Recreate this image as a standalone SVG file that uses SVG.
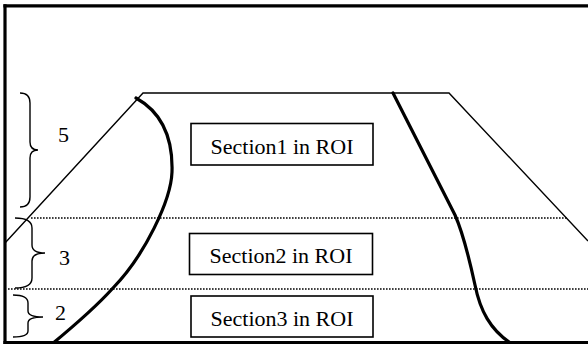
<svg xmlns="http://www.w3.org/2000/svg" width="588" height="344" viewBox="0 0 588 344">
  <style>
    .frame { stroke: #000; stroke-width: 3.2; fill: none; }
    .edge { stroke: #000; stroke-width: 1.4; fill: none; }
    .bound { stroke: #000; stroke-width: 3.2; fill: none; stroke-linecap: round; stroke-linejoin: round; }
    .dot { stroke: #000; stroke-width: 1.4; stroke-dasharray: 1.6 1.4; fill: none; }
    .brace { stroke: #000; stroke-width: 1.4; fill: none; }
    .box { stroke: #000; stroke-width: 1.6; fill: #fff; }
    .lbl { font-family: "Liberation Serif", "Times New Roman", serif; font-size: 22px; fill: #000; }
  </style>
  <rect width="588" height="344" fill="#fff"/>

  <!-- outer frame: top, left, bottom -->
  <g id="frame">
    <line class="frame" x1="3.4" y1="5.8" x2="588" y2="5.8"/>
    <line class="frame" x1="5" y1="4.2" x2="5" y2="344"/>
    <line class="frame" x1="3.4" y1="342.5" x2="588" y2="342.5"/>
  </g>

  <!-- road trapezoid -->
  <g id="road">
    <polyline class="edge" points="5,243 143,93 449,93 588,241"/>
  </g>

  <!-- section separators -->
  <g id="separators">
    <line class="dot" x1="31" y1="218" x2="567" y2="218"/>
    <line class="dot" x1="8" y1="289" x2="588" y2="289"/>
  </g>

  <!-- lane boundaries -->
  <g id="boundaries">
    <path class="bound" d="M136,98 C163,113 173,140 172,172 C171,200 145,255 113,288 C95,308 75,325 52,344"/>
    <path class="bound" d="M393,93 L455,215 C463,233 470,262 475,285 C480,310 490,330 512,344"/>
  </g>

  <!-- row-count braces -->
  <g id="brace5">
    <path class="brace" d="M20,93 Q30,93 30,103 L30,142 Q30,150 38,150 Q30,150 30,158 L30,197 Q30,207 20,207"/>
    <text class="lbl" x="58" y="142">5</text>
  </g>
  <g id="brace3">
    <path class="brace" d="M15,218 Q32,218 32,228 L32,245 Q32,253 45,253 Q32,253 32,261 L32,278 Q32,288 15,288"/>
    <text class="lbl" x="59" y="265">3</text>
  </g>
  <g id="brace2">
    <path class="brace" d="M13,295 Q28,295 28,303 L28,311 Q28,317 43,317 Q28,317 28,323 L28,331 Q28,337 13,337"/>
    <text class="lbl" x="55" y="320">2</text>
  </g>

  <!-- section labels -->
  <g id="section1">
    <rect class="box" x="191" y="123.5" width="182" height="41.5"/>
    <text class="lbl" x="282" y="154" text-anchor="middle">Section1 in ROI</text>
  </g>
  <g id="section2">
    <rect class="box" x="189.5" y="233.5" width="183" height="41"/>
    <text class="lbl" x="281" y="263" text-anchor="middle">Section2 in ROI</text>
  </g>
  <g id="section3">
    <rect class="box" x="191" y="296" width="182" height="41"/>
    <text class="lbl" x="282" y="326" text-anchor="middle">Section3 in ROI</text>
  </g>
</svg>
